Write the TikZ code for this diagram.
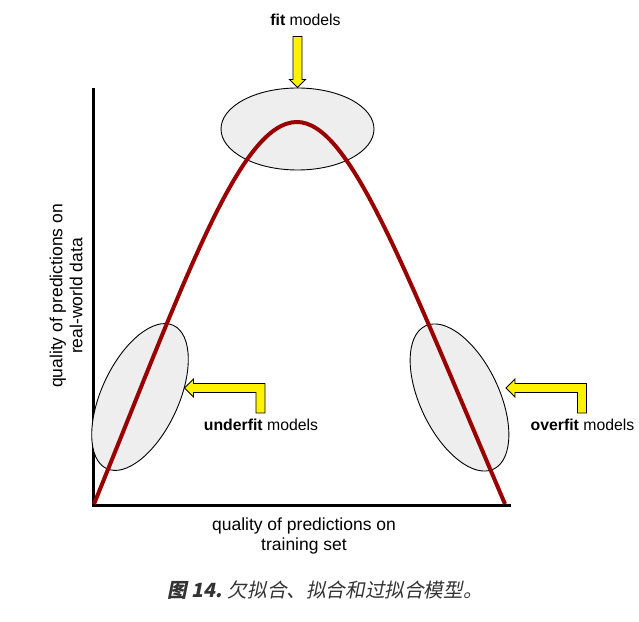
\documentclass[tikz,border=0pt]{standalone}
\usepackage{fontspec}
\setmainfont{Liberation Sans}
\newfontfamily\cjk[FakeSlant=0.2]{Noto Sans CJK SC}
\usepackage{tikz}
\usetikzlibrary{shapes.geometric,positioning}

\definecolor{curvered}{RGB}{153,0,0}
\definecolor{blobgray}{RGB}{238,238,238}
\definecolor{captiongray}{RGB}{51,51,51}

\begin{document}
\begin{tikzpicture}[x=1pt, y=1pt,
  axis/.style={line width=3pt, black},
  blob/.style={ellipse, draw=black, line width=0.9pt, fill=blobgray, inner sep=0pt},
  fitcurve/.style={line width=4pt, curvered},
  pointer/.style={fill=yellow, draw=black, line width=0.9pt, line join=miter},
  lbl/.style={font=\fontsize{17.5}{20}\selectfont, align=center, inner sep=0pt},
  tag/.style={font=\fontsize{15.8}{19}\selectfont, inner sep=0pt},
  elbowarrow/.pic={
    \draw[pointer] (0,0) -- (9,9) -- (9,4.5) -- (80.5,4.5) -- (80.5,-25)
      -- (71.5,-25) -- (71.5,-4.5) -- (9,-4.5) -- (9,-9) -- cycle;
  }
]
  \useasboundingbox (0,0) rectangle (639,621);

  % axes
  \coordinate (origin) at (93,116);
  \coordinate (ytop) at (93,533);
  \coordinate (xend) at (511,116);
  \draw[axis] (ytop) -- (origin) -- (xend);

  % the three groups of models
  \node[blob, minimum width=153pt, minimum height=82pt] (fitblob) at (297.5,492) {};
  \node[blob, rotate=65, minimum width=158pt, minimum height=77pt] (underblob) at (140,224) {};
  \node[blob, rotate=-64.5, minimum width=158.6pt, minimum height=79pt] (overblob) at (459.5,223.5) {};

  % fit curve
  \coordinate (cstart) at (94,117);
  \coordinate (cpeak) at (297,499);
  \coordinate (cend) at (505,117);
  \draw[fitcurve] (cstart) .. controls (185,341) and (240,499) .. (cpeak)
    .. controls (350,499) and (405,351) .. (cend);

  % pointers
  \draw[pointer] (fitblob.north) -- ++(8,8) -- ++(-3.5,0) -- ++(0,43) -- ++(-9,0)
    -- ++(0,-43) -- ++(-3.5,0) -- cycle;
  \coordinate (undertip) at (184.5,233);
  \coordinate (overtip) at (506,233);
  \pic at (undertip) {elbowarrow};
  \pic at (overtip) {elbowarrow};

  % labels
  \node[tag] (fitlbl) at (305.5,601) {\textbf{fit} models};
  \node[tag] (underlbl) at (261,196) {\textbf{underfit} models};
  \node[tag] (overlbl) at (582.5,196) {\textbf{overfit} models};
  \node[lbl] (xlbl) at (304,85) {quality of predictions on\\training set};
  \node[lbl, rotate=90] (ylbl) at (66,325) {quality of predictions on\\real-world data};

  \node[font=\cjk\fontsize{19.6}{22}\selectfont, text=captiongray, inner sep=0pt] (caption) at (325,31)
    {{\bfseries 图 14.} 欠拟合、拟合和过拟合模型。};
\end{tikzpicture}
\end{document}
